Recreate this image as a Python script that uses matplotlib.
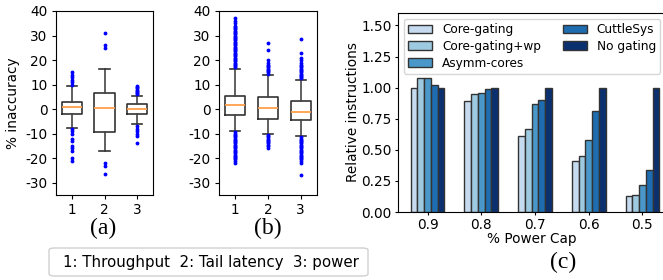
import matplotlib
matplotlib.use("Agg")
import matplotlib.pyplot as plt
from matplotlib.patches import FancyBboxPatch
import numpy as np

plt.rcParams['axes.unicode_minus'] = False

# ---- Box plot data (a) ----
a_med = [1.0, 0.5, 0.0]
a_q1 = [-2.0, -9.5, -2.0]
a_q3 = [3.0, 6.5, 2.0]
a_wlo = [-7.5, -17.0, -6.0]
a_whi = [9.5, 16.5, 5.5]
a_fliers = [
    [10, 11, 12, 13, 14, 15, -8, -9, -10, -12, -13, -15, -16, -17, -20, -21],
    [25, 26, 31, -22, -23, -26.5],
    [6, 6.5, 7, 7.5, 8, 8.5, 9, 9.5, -7, -8, -9, -10, -11, -14],
]

# ---- Box plot data (b) ----
b_med = [1.5, 0.5, -1.0]
b_q1 = [-2.5, -4.0, -4.5]
b_q3 = [5.5, 5.0, 3.5]
b_wlo = [-9.0, -10.0, -11.0]
b_whi = [16.5, 14.0, 12.0]
b_fliers = [
    [17, 17.5, 18, 18.5, 19, 19.5, 20, 20.5, 21, 21.5, 22, 22.5, 23, 23.5, 24, 24.5,
     25, 25.5, 26, 26.5, 27, 27.5, 28, 28.5, 29, 29.5, 30, 30.5, 31, 31.5, 32, 32.5,
     33, 33.5, 34, 35, 36, 37,
     -9.5, -10, -10.5, -11, -11.5, -12, -12.5, -13, -13.5, -14, -14.5, -15, -15.5,
     -16, -16.5, -17, -17.5, -18, -18.5, -19, -19.5, -20, -20.5, -21, -22],
    [14.5, 15, 15.5, 16, 16.5, 17, 17.5, 18, 19, 20, 24, 27,
     -10.5, -11, -11.5, -12, -12.5, -13, -13.5, -14, -14.5, -15, -16],
    [12.5, 13, 13.5, 14, 14.5, 15, 15.5, 16, 16.5, 17, 17.5, 18, 19, 20, 21, 23, 28.5,
     -11.5, -12, -12.5, -13, -13.5, -14, -14.5, -15, -15.5, -16, -16.5, -17, -17.5,
     -18, -18.5, -19, -19.5, -20, -20.5, -21, -22, -27],
]
box_labels = ["1", "2", "3"]

# ---- Bar chart data (c) ----
caps = ["0.9", "0.8", "0.7", "0.6", "0.5"]
series = ["Core-gating", "Core-gating+wp", "Asymm-cores", "CuttleSys", "No gating"]
core_gating = [1.00, 0.89, 0.61, 0.41, 0.13]
core_gating_wp = [1.08, 0.945, 0.67, 0.45, 0.14]
asymm_cores = [1.08, 0.955, 0.865, 0.58, 0.22]
cuttlesys = [1.02, 0.99, 0.90, 0.81, 0.34]
no_gating = [1.00, 1.00, 1.00, 1.00, 1.00]
bar_values = [core_gating, core_gating_wp, asymm_cores, cuttlesys, no_gating]
colors = ['#c6dbef', '#9ecae1', '#4a98c9', '#1f6db1', '#0b3070']

W, H = 663, 280
fig = plt.figure(figsize=(W / 100, H / 100), dpi=100)
fs = 9.8

def ax_px(l, t, r, b):
    return fig.add_axes([l / W, 1 - b / H, (r - l) / W, (b - t) / H])

def make_stats(med, q1, q3, wlo, whi, fl):
    return [dict(med=med[i], q1=q1[i], q3=q3[i], whislo=wlo[i], whishi=whi[i],
                 fliers=fl[i], label=box_labels[i]) for i in range(3)]

def draw_box(ax, stats):
    ax.bxp(stats, positions=[1, 2, 3], widths=0.62,
           boxprops=dict(color='#333333', linewidth=1.2),
           whiskerprops=dict(color='#444444', linewidth=1.2),
           capprops=dict(color='#333333', linewidth=1.2),
           medianprops=dict(color='#ff9f4a', linewidth=1.3),
           flierprops=dict(marker='.', markersize=3.5, markerfacecolor='blue',
                           markeredgecolor='blue', linestyle='none'))
    ax.set_ylim(-35, 40)
    ax.set_xlim(0.5, 3.5)
    ax.set_yticks([-30, -20, -10, 0, 10, 20, 30, 40])
    ax.tick_params(labelsize=fs, length=3, pad=3)

axa = ax_px(56, 11, 153, 195)
draw_box(axa, make_stats(a_med, a_q1, a_q3, a_wlo, a_whi, a_fliers))
axa.set_ylabel('% inaccuracy', fontsize=fs)
axa.yaxis.set_label_coords((20 - 56) / 97, 0.5)

axb = ax_px(219, 11, 317, 195)
draw_box(axb, make_stats(b_med, b_q1, b_q3, b_wlo, b_whi, b_fliers))

# Bar chart
axc = ax_px(398, 13, 672, 212)
x = np.arange(len(caps))
bw = 0.125
for i, (name, vals) in enumerate(zip(series, bar_values)):
    axc.bar(x + (i - 2) * bw, vals, width=bw, color=colors[i], edgecolor='#333333',
            linewidth=1.0, label=name)
axc.set_xlim(-0.55, 4.55)
axc.set_ylim(0, 1.6)
axc.set_yticks([0, 0.25, 0.5, 0.75, 1.0, 1.25, 1.5])
axc.set_yticklabels(['0.00', '0.25', '0.50', '0.75', '1.00', '1.25', '1.50'])
axc.set_xticks(x)
axc.set_xticklabels(caps)
axc.tick_params(labelsize=fs, length=2.5, pad=2)
axc.set_ylabel('Relative instructions', fontsize=fs)
axc.yaxis.set_label_coords((360 - 398) / 274, 0.5)
axc.set_xlabel('% Power Cap', fontsize=fs)
axc.xaxis.set_label_coords((532 - 398) / 274, (212 - 232) / 199)
axc.legend(ncol=2, fontsize=8.7, loc='upper left', labelspacing=0.3,
           borderpad=0.35, handlelength=2.0, handletextpad=0.8, columnspacing=1.8)

# Panel labels
serif = ['Liberation Serif', 'DejaVu Serif']
fig.text(103 / W, 1 - 228 / H, '(a)', ha='center', va='center', fontsize=17, family=serif)
fig.text(268 / W, 1 - 228 / H, '(b)', ha='center', va='center', fontsize=17, family=serif)
fig.text(563 / W, 1 - 262 / H, '(c)', ha='center', va='center', fontsize=17, family=serif)

# Bottom key box
box = FancyBboxPatch((49 / W, 1 - 276 / H), (368 - 49) / W, (276 - 248) / H,
                     boxstyle='round,pad=0,rounding_size=0.008', transform=fig.transFigure,
                     facecolor='white', edgecolor='#d0d0d0', linewidth=1.0)
fig.patches.append(box)
fig.text(63 / W, 1 - 262 / H, '1: Throughput  2: Tail latency  3: power',
         ha='left', va='center', fontsize=10.8)

fig.savefig('out.png', dpi=100)
